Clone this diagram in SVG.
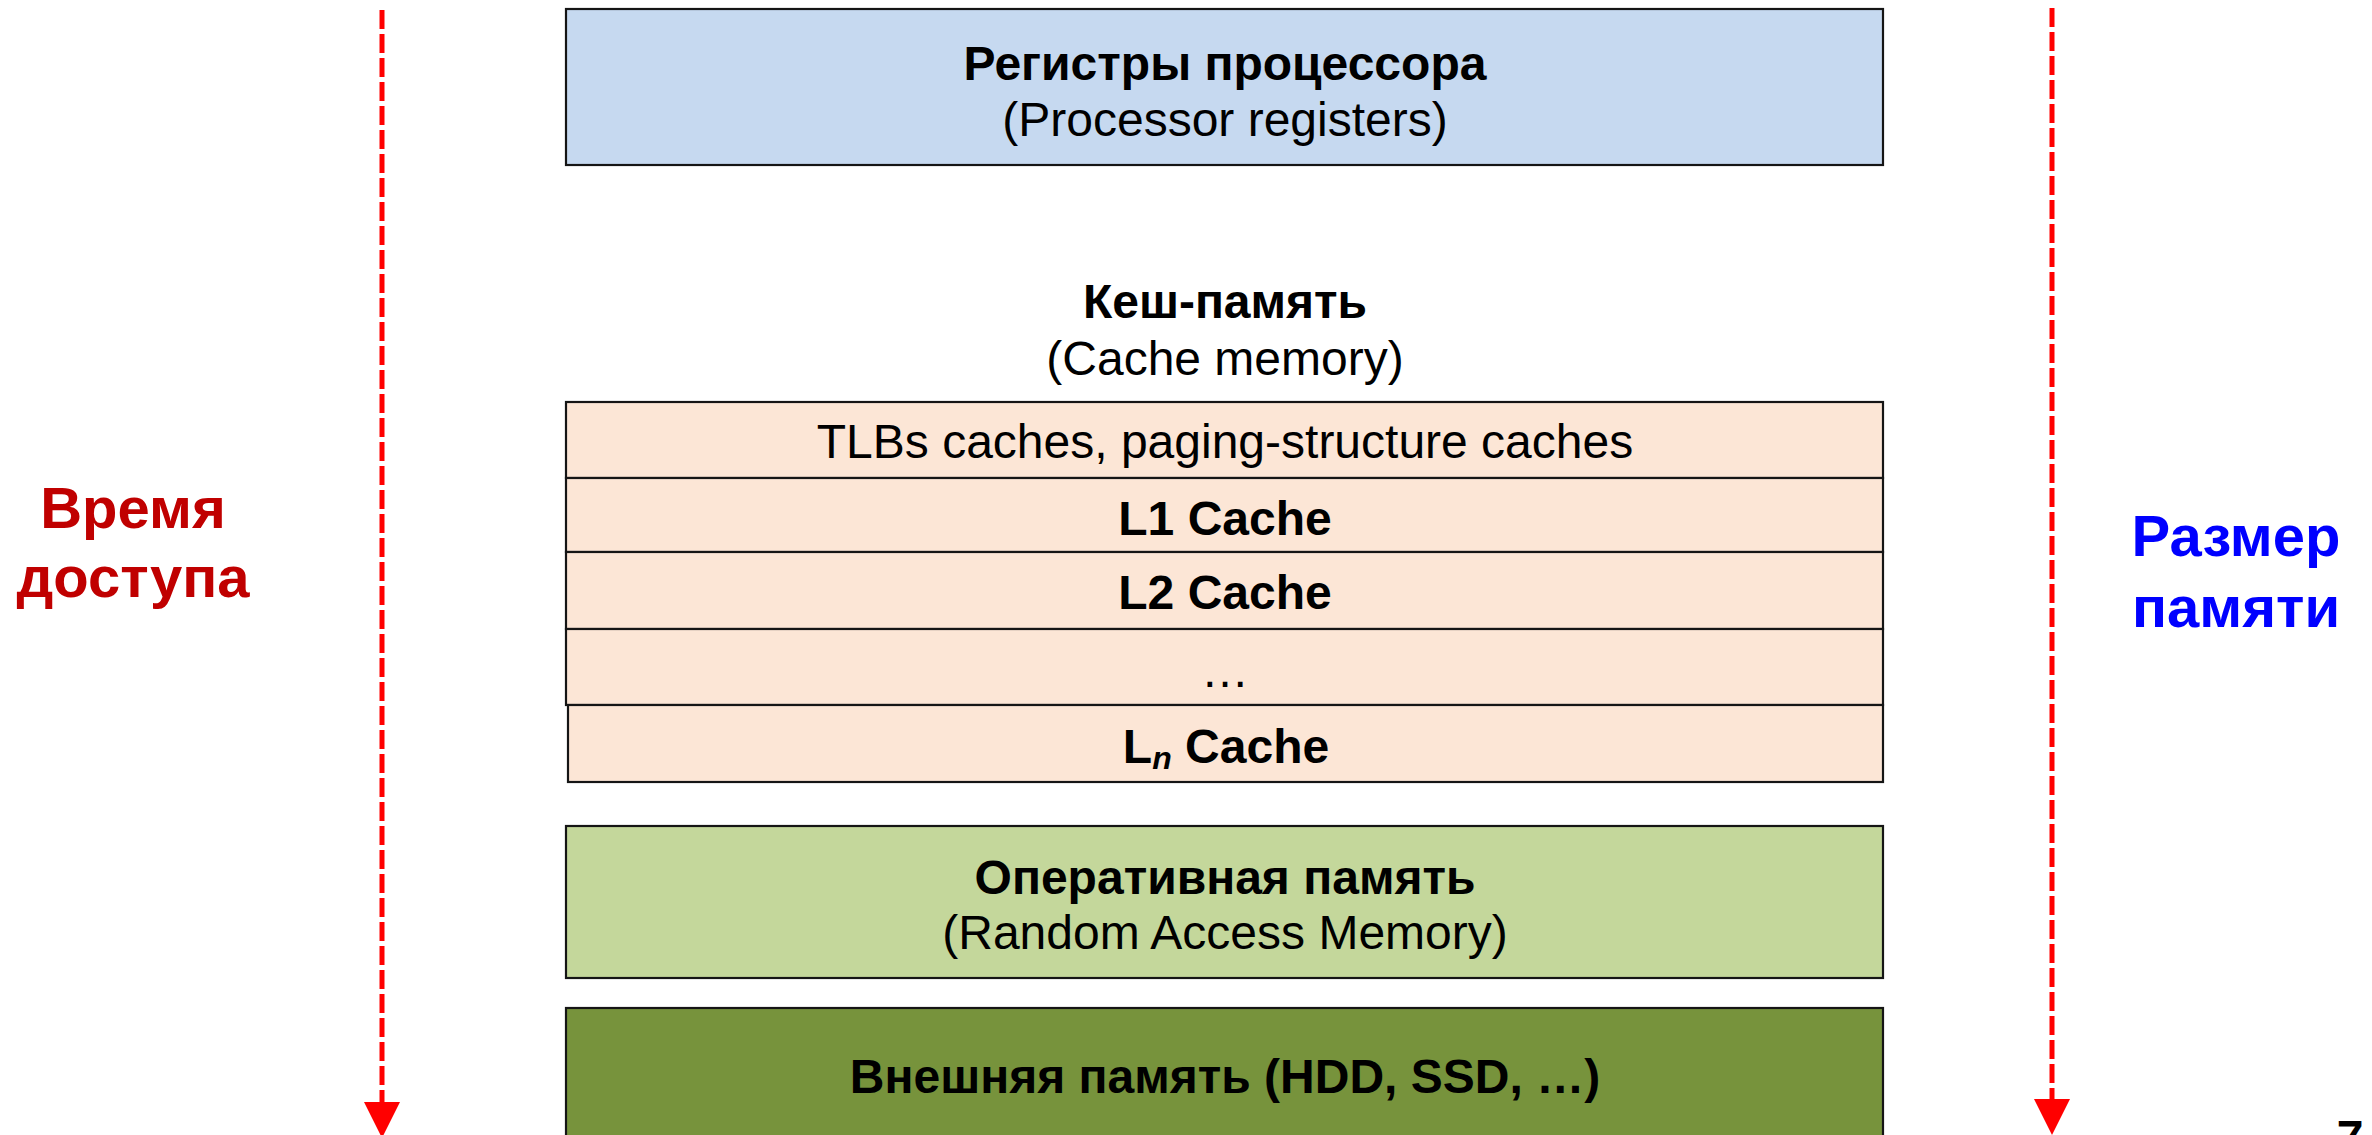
<svg xmlns="http://www.w3.org/2000/svg" width="2372" height="1135" viewBox="0 0 2372 1135">
  <style>
    text { font-family: "Liberation Sans", Arial, sans-serif; font-size: 48px; fill: #000; text-anchor: middle; }
    .b { font-weight: bold; }
    .box { stroke: #151515; stroke-width: 2.2; }
    .reg { fill: #C6D9F0; }
    .cache { fill: #FCE6D6; }
    .ram { fill: #C4D79B; }
    .ext { fill: #77933C; }
    .axis { stroke: #FF0000; stroke-width: 5; stroke-dasharray: 19 5; fill: none; marker-end: url(#head); }
    .side { font-weight: bold; font-size: 58px; }
    .red { fill: #C00000; }
    .blue { fill: #0000FF; }
  </style>
  <defs>
    <marker id="head" markerUnits="userSpaceOnUse" markerWidth="36" markerHeight="36" viewBox="0 0 36 36" refX="0" refY="18" orient="auto">
      <path d="M0,0 L36,18 L0,36 Z" fill="#FF0000"/>
    </marker>
  </defs>

  <rect width="2372" height="1135" fill="#FFFFFF"/>

  <!-- direction arrows -->
  <g id="connectors">
    <line class="axis" x1="382" y1="10" x2="382" y2="1102"/>
    <line class="axis" x1="2052" y1="8" x2="2052" y2="1099"/>
  </g>

  <!-- side captions -->
  <g id="access-time">
    <text class="side red" x="133" y="528">Время</text>
    <text class="side red" x="133" y="597">доступа</text>
  </g>
  <g id="memory-size">
    <text class="side blue" x="2236" y="556">Размер</text>
    <text class="side blue" x="2236" y="627">памяти</text>
  </g>

  <!-- processor registers -->
  <g id="registers">
    <rect class="box reg" x="566" y="9" width="1317" height="156"/>
    <text class="b" x="1225" y="80">Регистры процессора</text>
    <text x="1225" y="136">(Processor registers)</text>
  </g>

  <!-- cache heading -->
  <g id="cache-title">
    <text class="b" x="1225" y="318">Кеш-память</text>
    <text x="1225" y="375">(Cache memory)</text>
  </g>

  <!-- cache levels -->
  <g id="tlb">
    <rect class="box cache" x="566" y="402" width="1317" height="76"/>
    <text x="1225" y="458">TLBs caches, paging-structure caches</text>
  </g>
  <g id="l1">
    <rect class="box cache" x="566" y="478" width="1317" height="74"/>
    <text class="b" x="1225" y="535">L1 Cache</text>
  </g>
  <g id="l2">
    <rect class="box cache" x="566" y="552" width="1317" height="77"/>
    <text class="b" x="1225" y="609">L2 Cache</text>
  </g>
  <g id="ldots">
    <rect class="box cache" x="566" y="629" width="1317" height="76"/>
    <text x="1225" y="687">…</text>
  </g>
  <g id="ln">
    <rect class="box cache" x="568" y="705" width="1315" height="77"/>
    <text class="b" x="1226" y="763">L<tspan font-style="italic" font-size="32" dy="6">n</tspan><tspan dy="-6"> Cache</tspan></text>
  </g>

  <!-- main memory -->
  <g id="ram">
    <rect class="box ram" x="566" y="826" width="1317" height="152"/>
    <text class="b" x="1225" y="894">Оперативная память</text>
    <text x="1225" y="949">(Random Access Memory)</text>
  </g>

  <!-- external storage -->
  <g id="external">
    <rect class="box ext" x="566" y="1008" width="1317" height="140"/>
    <text class="b" x="1225" y="1093">Внешняя память (HDD, SSD, …)</text>
  </g>

  <!-- page number -->
  <text class="b" x="2350" y="1154">7</text>
</svg>
